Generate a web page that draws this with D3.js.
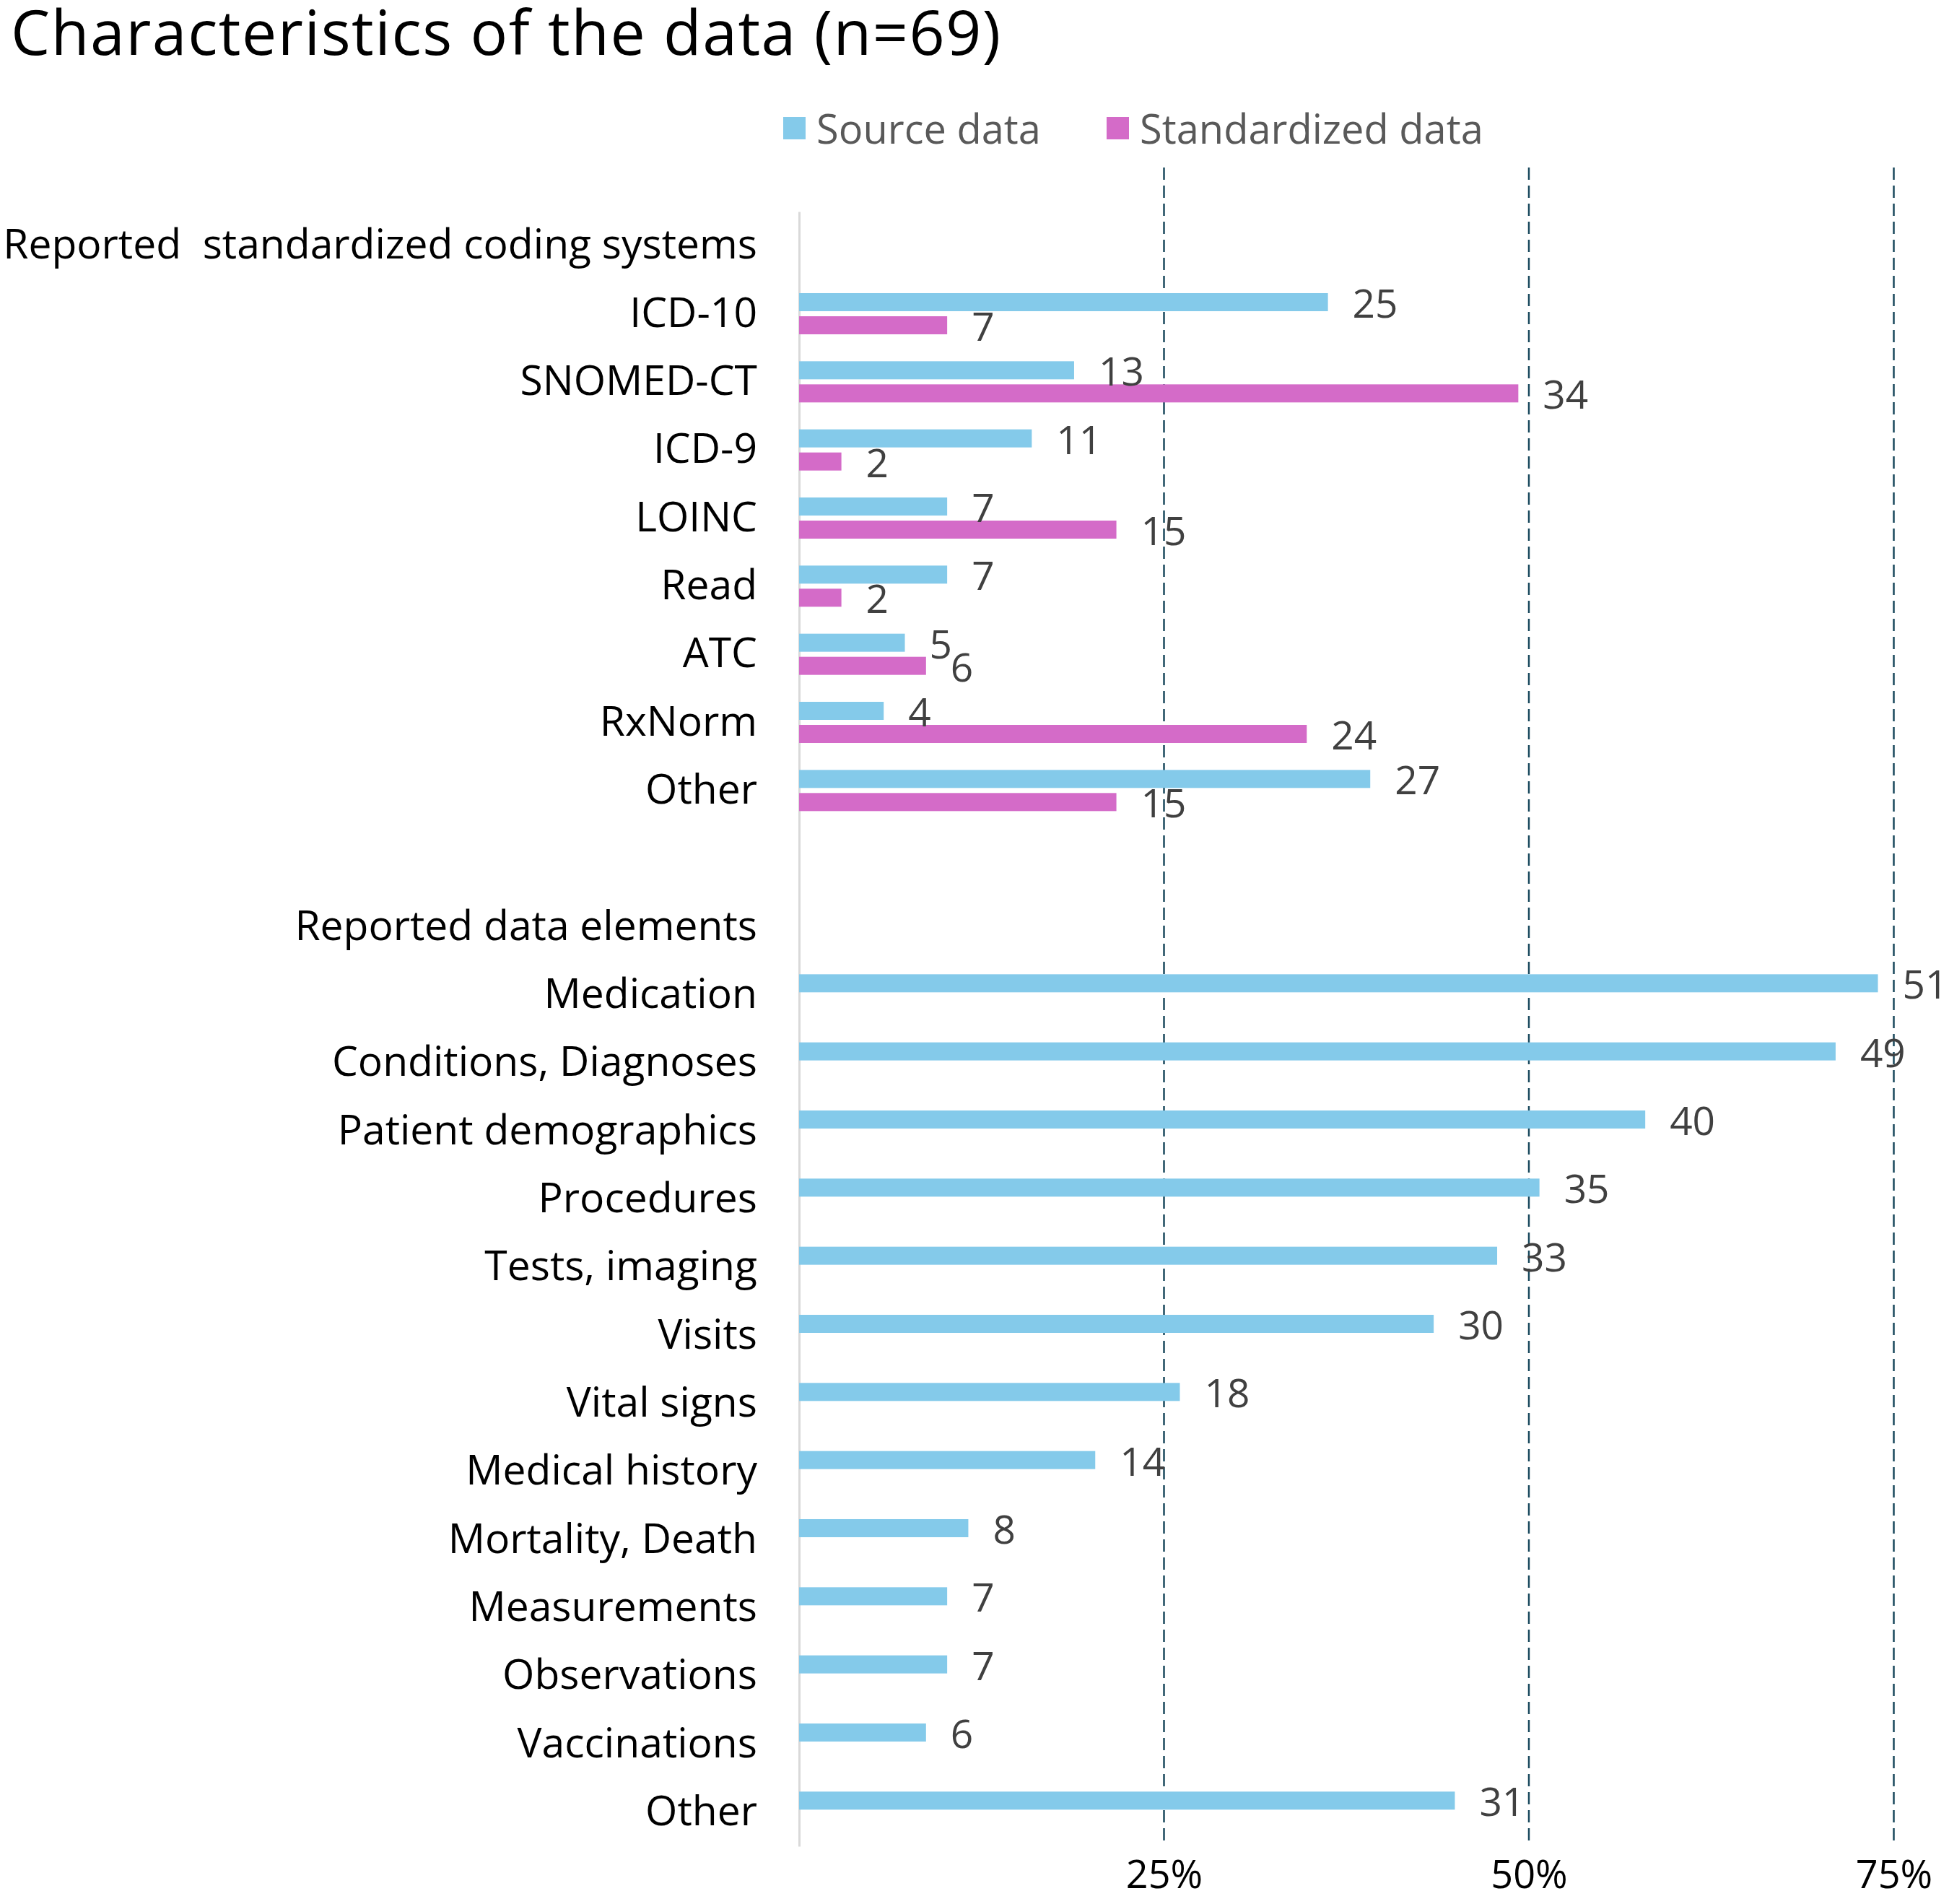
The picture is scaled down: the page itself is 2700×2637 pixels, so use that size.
<!DOCTYPE html>
<html>
<head>
<meta charset="utf-8">
<script src="https://cdn.jsdelivr.net/npm/d3@7"></script>
<style>
  body { margin: 0; background: #fff; }
  text { font-family: "Open Sans", "Noto Sans", sans-serif; white-space: pre; }
  .axis-label { fill: #000; }
</style>
</head>
<body>
<svg width="2700" height="2637"></svg>
<script>
const title = 'Characteristics of the data (n=69)';
const total = 69;
const seriesNames = ['Source data', 'Standardized data'];
const seriesColors = ['#84CAEA', '#D46BC8'];

const codingHeader = 'Reported  standardized coding systems';
const codingCats = ['ICD-10', 'SNOMED-CT', 'ICD-9', 'LOINC', 'Read', 'ATC', 'RxNorm', 'Other'];
const codingSource = [25, 13, 11, 7, 7, 5, 4, 27];
const codingStd = [7, 34, 2, 15, 2, 6, 24, 15];

const elemHeader = 'Reported data elements';
const elemCats = ['Medication', 'Conditions, Diagnoses', 'Patient demographics', 'Procedures',
  'Tests, imaging', 'Visits', 'Vital signs', 'Medical history', 'Mortality, Death',
  'Measurements', 'Observations', 'Vaccinations', 'Other'];
const elemSource = [51, 49, 40, 35, 33, 30, 18, 14, 8, 7, 7, 6, 31];

const xTicks = [0.25, 0.5, 0.75];

// rows, top to bottom
const rows = [];
rows.push({ id: 'h1', label: codingHeader, vals: [] });
codingCats.forEach((c, i) => rows.push({ id: 'c' + i, label: c, vals: [codingSource[i], codingStd[i]] }));
rows.push({ id: 'gap', label: '', vals: [] });
rows.push({ id: 'h2', label: elemHeader, vals: [] });
elemCats.forEach((c, i) => rows.push({ id: 'e' + i, label: c, vals: [elemSource[i]] }));

const svg = d3.select('svg');
const plotLeft = 1107, plotTop = 293, plotBottom = 2557;

const x = d3.scaleLinear().domain([0, 1]).range([plotLeft, plotLeft + 2022]);
const y = d3.scaleBand().domain(rows.map(d => d.id)).range([plotTop, plotBottom]);
const ySub = d3.scaleBand().domain([0, 1]).range([0, y.bandwidth()])
  .paddingInner(7 / 32).paddingOuter(0.583);

// title
svg.append('text')
  .attr('x', 15).attr('y', 76)
  .style('font-size', '86px')
  .style('letter-spacing', '1.5px')
  .attr('fill', '#000')
  .text(title);

// legend
const legendX = [1085, 1533];
const legend = svg.append('g');
seriesNames.forEach((name, i) => {
  legend.append('rect')
    .attr('x', legendX[i]).attr('y', 162)
    .attr('width', 31).attr('height', 31)
    .attr('fill', seriesColors[i]);
  legend.append('text')
    .attr('x', legendX[i] + 46).attr('y', 177)
    .attr('dominant-baseline', 'central')
    .style('font-size', '56px')
    .attr('fill', '#595959')
    .text(name);
});

// gridlines
svg.append('g').selectAll('line')
  .data(xTicks)
  .join('line')
    .attr('x1', d => x(d)).attr('x2', d => x(d))
    .attr('y1', 232).attr('y2', plotBottom)
    .attr('stroke', '#1B4A5E')
    .attr('stroke-width', 2.5)
    .attr('stroke-dasharray', '17,8');

// y axis with category labels
const labelOf = {};
rows.forEach(r => labelOf[r.id] = r.label);
const yAxisG = svg.append('g')
  .attr('transform', `translate(${plotLeft},0)`)
  .call(d3.axisLeft(y).tickSize(0).tickPadding(58).tickFormat(id => labelOf[id]));
yAxisG.select('.domain').attr('stroke', '#D9D9D9').attr('stroke-width', 3);
yAxisG.selectAll('text')
  .style('font-size', '57px')
  .attr('fill', '#000')
  .attr('font-family', null);

// x axis labels
const xAxisG = svg.append('g')
  .attr('transform', `translate(0,${plotBottom})`)
  .call(d3.axisBottom(x).tickValues(xTicks).tickSize(0).tickPadding(20).tickFormat(d3.format('.0%')));
xAxisG.select('.domain').remove();
xAxisG.selectAll('text')
  .attr('class', 'axis-label')
  .style('font-size', '54px')
  .attr('font-family', null);

// bars and value labels
const cells = [];
rows.forEach(r => r.vals.forEach((v, i) => cells.push({ id: r.id, s: i, v: v })));

svg.append('g').selectAll('rect')
  .data(cells)
  .join('rect')
    .attr('x', x(0))
    .attr('y', d => y(d.id) + ySub(d.s))
    .attr('width', d => x(d.v / total) - x(0))
    .attr('height', ySub.bandwidth())
    .attr('fill', d => seriesColors[d.s]);

svg.append('g').selectAll('text')
  .data(cells)
  .join('text')
    .attr('x', d => x(d.v / total) + 34)
    .attr('y', d => y(d.id) + ySub(d.s) + ySub.bandwidth() / 2)
    .attr('dominant-baseline', 'central')
    .style('font-size', '55px')
    .attr('fill', '#404040')
    .text(d => d.v);
</script>
</body>
</html>
